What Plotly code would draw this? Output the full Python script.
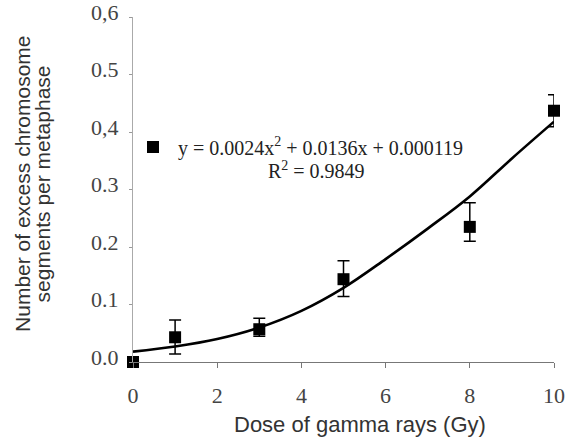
import plotly.graph_objects as go

# Data
dose = [0, 1, 3, 5, 8, 10]
segments = [0.0, 0.043, 0.057, 0.144, 0.235, 0.437]
seg_err_plus = [0.0, 0.030, 0.019, 0.032, 0.042, 0.028]
seg_err_minus = [0.0, 0.029, 0.012, 0.030, 0.025, 0.028]

# Fitted trend line as drawn
fit_x = [0, 1, 2, 3, 4, 5, 6, 7, 8, 9, 10]
fit_y = [0.018, 0.027, 0.040, 0.060, 0.089, 0.129, 0.179, 0.232, 0.288, 0.354, 0.418]

equation = "y = 0.0024x<sup>2</sup> + 0.0136x + 0.000119"
r2_text = "R<sup>2</sup> = 0.9849"
x_title = "Dose of gamma rays (Gy)"
y_title_lines = ["Number of excess chromosome", "segments per metaphase"]

y_tickvals = [0, 0.1, 0.2, 0.3, 0.4, 0.5, 0.6]
y_ticktext = ["0.0", "0.1", "0.2", "0.3", "0,4", "0.5", "0,6"]
x_tickvals = [0, 2, 4, 6, 8, 10]

serif = "Liberation Serif"
sans = "Liberation Sans"

fig = go.Figure()
fig.add_trace(go.Scatter(
    x=fit_x, y=fit_y, mode="lines", line=dict(color="black", width=2.6, shape="spline"),
    showlegend=False, hoverinfo="skip", cliponaxis=False))
fig.add_trace(go.Scatter(
    x=dose, y=segments, mode="markers", name="\u00a0" + equation,
    marker=dict(symbol="square", size=12, color="black"),
    error_y=dict(type="data", array=seg_err_plus, arrayminus=seg_err_minus,
                 color="black", thickness=1.5, width=6),
    cliponaxis=False))

fig.add_annotation(text=r2_text, xref="paper", yref="paper", x=0.436, y=0.556,
                   showarrow=False, xanchor="center", yanchor="middle",
                   font=dict(family=serif, size=20, color="#222"))
fig.add_annotation(text=x_title, xref="paper", yref="paper", x=0.540, y=-0.18,
                   showarrow=False, xanchor="center", yanchor="middle",
                   font=dict(family=sans, size=22, color="#333"))
for xp, line in zip([-0.2614, -0.215], y_title_lines):
    fig.add_annotation(text=line, xref="paper", yref="paper", x=xp, y=0.516,
                       showarrow=False, xanchor="center", yanchor="middle", textangle=-90,
                       font=dict(family=sans, size=21, color="#333"))

fig.update_layout(
    width=568, height=439,
    margin=dict(l=133, r=14, t=17, b=77),
    paper_bgcolor="white", plot_bgcolor="white",
    showlegend=True,
    legend=dict(x=0.0, y=0.623, xanchor="left", yanchor="middle",
                font=dict(family=serif, size=20, color="#222"),
                bgcolor="rgba(0,0,0,0)"),
    xaxis=dict(range=[0, 10], tickvals=x_tickvals, showgrid=False, zeroline=False,
               showline=True, linecolor="#777", linewidth=1, ticks="outside", ticklen=5,
               tickcolor="#777", ticklabelstandoff=9, automargin=False,
               tickfont=dict(family=serif, size=22, color="#444")),
    yaxis=dict(range=[0, 0.6], tickvals=y_tickvals, ticktext=y_ticktext, showgrid=False,
               zeroline=False, showline=True, linecolor="#aaa", linewidth=1,
               ticks="outside", ticklen=3, tickcolor="#999", automargin=False,
               ticklabelstandoff=6, ticklabelshift=-5, ticklabeloverflow="allow",
               tickfont=dict(family=serif, size=22, color="#444")),
)

fig.write_html("out.html", config={"displayModeBar": False},
               post_script="document.body.style.margin='0';document.body.style.overflow='hidden';")
